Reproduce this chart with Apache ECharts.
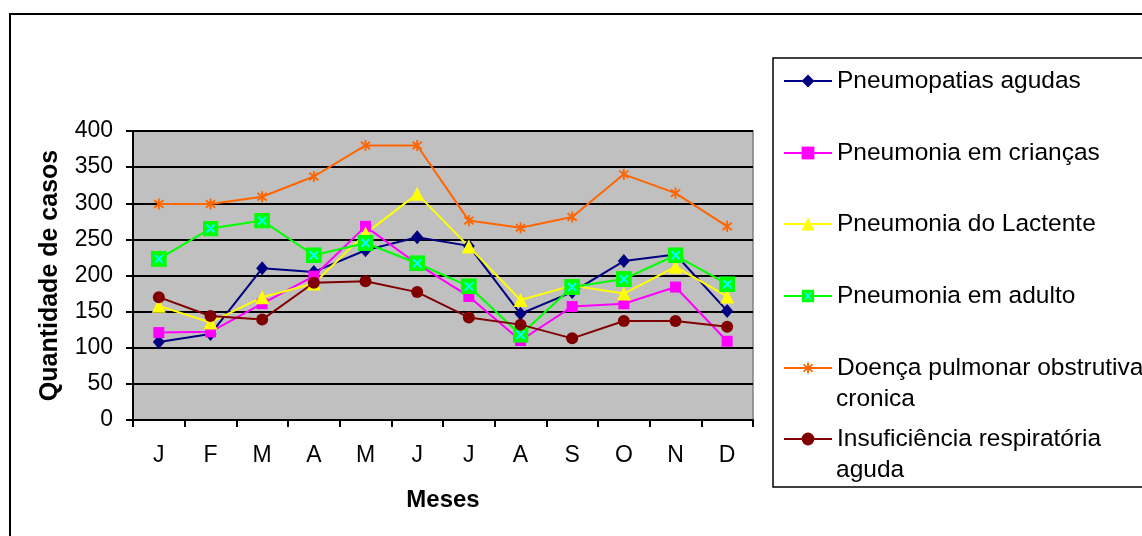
<!DOCTYPE html>
<html>
<head>
<meta charset="utf-8">
<script src="https://cdn.jsdelivr.net/npm/echarts@6/dist/echarts.min.js"></script>
<style>
  html, body { margin: 0; padding: 0; background: #ffffff; }
  #chart { width: 1142px; height: 536px; }
</style>
</head>
<body>
<div id="chart"></div>
<script>
// Monthly respiratory cases by diagnosis
const months = ['J', 'F', 'M', 'A', 'M', 'J', 'J', 'A', 'S', 'O', 'N', 'D'];
const yTicks = [0, 50, 100, 150, 200, 250, 300, 350, 400];

const seriesNames = [
  'Pneumopatias agudas',
  'Pneumonia em crianças',
  'Pneumonia do Lactente',
  'Pneumonia em adulto',
  'Doença pulmonar obstrutiva\ncronica',
  'Insuficiência respiratória\naguda'
];

const pneumopatiasAgudas   = [108, 119, 210, 205, 235, 253, 241, 147, 177, 220, 229, 151];
const pneumoniaCriancas    = [121, 122, 161, 199, 268, 216, 171, 110, 157, 161, 184, 109];
const pneumoniaLactente    = [158, 135, 170, 189, 258, 313, 240, 166, 186, 175, 212, 171];
const pneumoniaAdulto      = [223, 265, 276, 228, 245, 217, 185, 118, 184, 195, 228, 188];
const doencaObstrutiva     = [299, 299, 309, 337, 380, 380, 276, 266, 281, 340, 314, 268];
const insuficienciaAguda   = [170, 144, 139, 190, 192, 177, 142, 132, 113, 137, 137, 129];

const seriesData = [
  pneumopatiasAgudas, pneumoniaCriancas, pneumoniaLactente,
  pneumoniaAdulto, doencaObstrutiva, insuficienciaAguda
];

const colors = ['#000080', '#FF00FF', '#FFFF00', '#00FF00', '#FF6600', '#800000'];

// Green square with a cyan cross
const adultSymbol = 'image://data:image/svg+xml;utf8,' + encodeURIComponent(
  '<svg xmlns="http://www.w3.org/2000/svg" width="16" height="16" viewBox="0 0 16 16">' +
  '<rect x="0" y="0" width="16" height="16" fill="#00FF00"/>' +
  '<path d="M4 4 L12 12 M12 4 L4 12" stroke="#00FFFF" stroke-width="2" fill="none"/></svg>');

// Orange asterisk
const starSymbol = 'image://data:image/svg+xml;utf8,' + encodeURIComponent(
  '<svg xmlns="http://www.w3.org/2000/svg" width="14" height="14" viewBox="0 0 14 14">' +
  '<path d="M7 1 L7 13 M2 3 L12 11 M12 3 L2 11" stroke="#FF6600" stroke-width="2" fill="none"/></svg>');

const symbols = ['diamond', 'rect', 'triangle', adultSymbol, starSymbol, 'circle'];
const symbolSizes = [[12, 14], 11, 14, 16, 13, 12];

const font = 'Liberation Sans, Arial, sans-serif';

// Vertical centre of each legend entry's first text line
const legendRows = [81, 153, 224, 296, 368, 439];
const LEGEND_LINE = 31;
const LEGEND_LEFT = 778;
const LEGEND_ICON_W = 48;
const LEGEND_TEXT_X = LEGEND_LEFT + 5 + LEGEND_ICON_W + 5;

const legendTextStyle = {
  fontFamily: font, fontSize: 24.5, color: '#000', lineHeight: LEGEND_LINE
};

// Wrapped continuation lines of long legend names
const legendContinuations = [];
seriesNames.forEach((name, i) => {
  const parts = name.split('\n');
  parts.slice(1).forEach((part, k) => {
    legendContinuations.push({
      type: 'text', silent: true,
      x: LEGEND_TEXT_X,
      y: legendRows[i] + LEGEND_LINE * (k + 1),
      style: {
        text: part, fill: '#000',
        font: '24.5px ' + font,
        verticalAlign: 'middle', align: 'left'
      }
    });
  });
});

const chart = echarts.init(document.getElementById('chart'));

chart.setOption({
  animation: false,
  backgroundColor: '#ffffff',
  grid: {
    left: 133, right: 389, top: 131, bottom: 116,
    show: true,
    backgroundColor: '#C0C0C0',
    borderColor: '#808080',
    borderWidth: 1.5
  },
  xAxis: {
    type: 'category',
    data: months,
    boundaryGap: true,
    name: 'Meses',
    nameLocation: 'middle',
    nameGap: 68,
    nameTextStyle: { fontFamily: font, fontSize: 24, fontWeight: 'bold', color: '#000' },
    axisLine: { lineStyle: { color: '#000', width: 2 } },
    axisTick: { show: true, length: 7, lineStyle: { color: '#000', width: 2 } },
    axisLabel: { fontFamily: font, fontSize: 23, color: '#000', margin: 24 }
  },
  yAxis: {
    type: 'value',
    min: 0, max: 400, interval: 50,
    name: 'Quantidade de casos',
    nameLocation: 'middle',
    nameRotate: 90,
    nameGap: 70,
    nameTextStyle: { fontFamily: font, fontSize: 25, fontWeight: 'bold', color: '#000' },
    axisLine: { show: true, lineStyle: { color: '#000', width: 2 } },
    axisTick: { show: true, length: 7, lineStyle: { color: '#000', width: 2 } },
    axisLabel: {
      fontFamily: font, fontSize: 23, color: '#000', margin: 20,
      formatter: v => (yTicks.includes(v) ? String(v) : '')
    },
    splitLine: { show: true, lineStyle: { color: '#000', width: 2 } }
  },
  legend: seriesNames.map((name, i) => ({
    data: [name],
    left: LEGEND_LEFT,
    top: legendRows[i] - 5 - LEGEND_LINE / 2,
    itemWidth: LEGEND_ICON_W,
    itemHeight: 16,
    itemGap: 0,
    selectedMode: false,
    formatter: n => n.split('\n')[0],
    textStyle: legendTextStyle
  })),
  graphic: [
    {
      type: 'rect', silent: true,
      shape: { x: 10, y: 14, width: 1200, height: 600 },
      style: { fill: 'none', stroke: '#000', lineWidth: 2 }
    },
    {
      type: 'rect', silent: true,
      shape: { x: 773, y: 58, width: 400, height: 429 },
      style: { fill: 'none', stroke: '#000', lineWidth: 1.5 }
    }
  ].concat(legendContinuations),
  series: seriesNames.map((name, i) => ({
    name: name,
    type: 'line',
    data: seriesData[i],
    symbol: symbols[i],
    symbolSize: symbolSizes[i],
    showSymbol: true,
    showAllSymbol: true,
    lineStyle: { color: colors[i], width: 2 },
    itemStyle: { color: colors[i], borderWidth: 0 },
    emphasis: { disabled: true }
  }))
});
</script>
</body>
</html>
